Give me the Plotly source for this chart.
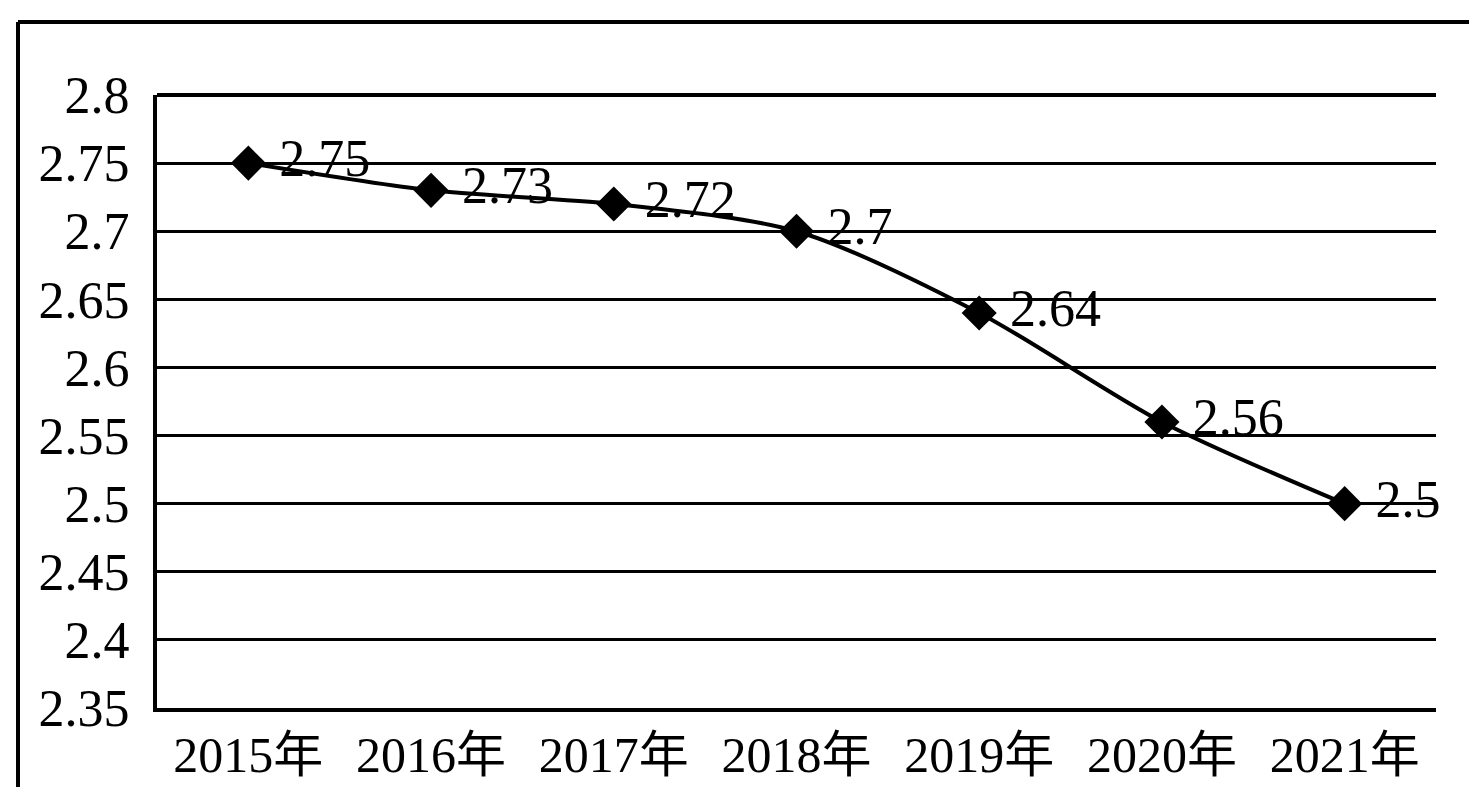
import plotly.graph_objects as go

years = ["2015年", "2016年", "2017年", "2018年", "2019年", "2020年", "2021年"]
values = [2.75, 2.73, 2.72, 2.70, 2.64, 2.56, 2.50]
value_labels = ["2.75", "2.73", "2.72", "2.7", "2.64", "2.56", "2.5"]
y_ticks = [2.35, 2.4, 2.45, 2.5, 2.55, 2.6, 2.65, 2.7, 2.75, 2.8]
y_tick_labels = ["2.35", "2.4", "2.45", "2.5", "2.55", "2.6", "2.65", "2.7", "2.75", "2.8"]

FONT = "Liberation Serif, Times New Roman, Noto Sans CJK SC, serif"

fig = go.Figure()
fig.add_trace(go.Scatter(
    x=years, y=values,
    mode="lines+markers+text",
    line=dict(color="black", width=4, shape="spline", smoothing=0.8),
    marker=dict(symbol="diamond", size=27, color="black"),
    text=value_labels,
    texttemplate="\u00a0%{text}",
    textposition="middle right",
    textfont=dict(family=FONT, size=52, color="black"),
    cliponaxis=False,
    showlegend=False,
))

W, H = 1469, 787
ml, mr, mt, mb = 157, 33, 95, 79
pw, ph = W - ml - mr, H - mt - mb

fig.update_layout(
    width=W, height=H,
    margin=dict(l=ml, r=mr, t=mt, b=mb, autoexpand=False),
    paper_bgcolor="white", plot_bgcolor="white",
    font=dict(family=FONT, color="black"),
    xaxis=dict(
        type="category", range=[-0.5, len(years) - 0.5], automargin=False,
        showgrid=False, showline=True, linecolor="black", linewidth=4,
        ticks="", ticklabelstandoff=0,
        tickfont=dict(family=FONT, size=50, color="black"),
        zeroline=False,
    ),
    yaxis=dict(
        range=[2.35, 2.8], tickvals=y_ticks, ticktext=y_tick_labels, automargin=False,
        showgrid=True, gridcolor="black", gridwidth=3,
        showline=True, linecolor="black", linewidth=4,
        ticks="", ticklabelstandoff=13,
        tickfont=dict(family=FONT, size=52, color="black"),
        zeroline=False,
    ),
    shapes=[
        dict(type="line", xref="paper", yref="paper",
             x0=(18 - ml) / pw, x1=1 + mr / pw + 0.01,
             y0=1 + (mt - 22) / ph, y1=1 + (mt - 22) / ph,
             line=dict(color="black", width=4)),
        dict(type="line", xref="paper", yref="paper",
             x0=(18 - ml) / pw, x1=(18 - ml) / pw,
             y0=1 + (mt - 22) / ph, y1=-mb / ph - 0.01,
             line=dict(color="black", width=4)),
        dict(type="line", xref="paper", yref="paper",
             x0=0, x1=1, y0=1, y1=1,
             line=dict(color="black", width=4)),
    ],
)

fig.write_html("out.html", config={"displayModeBar": False},
               post_script="document.body.style.margin='0';document.body.style.overflow='hidden';")
